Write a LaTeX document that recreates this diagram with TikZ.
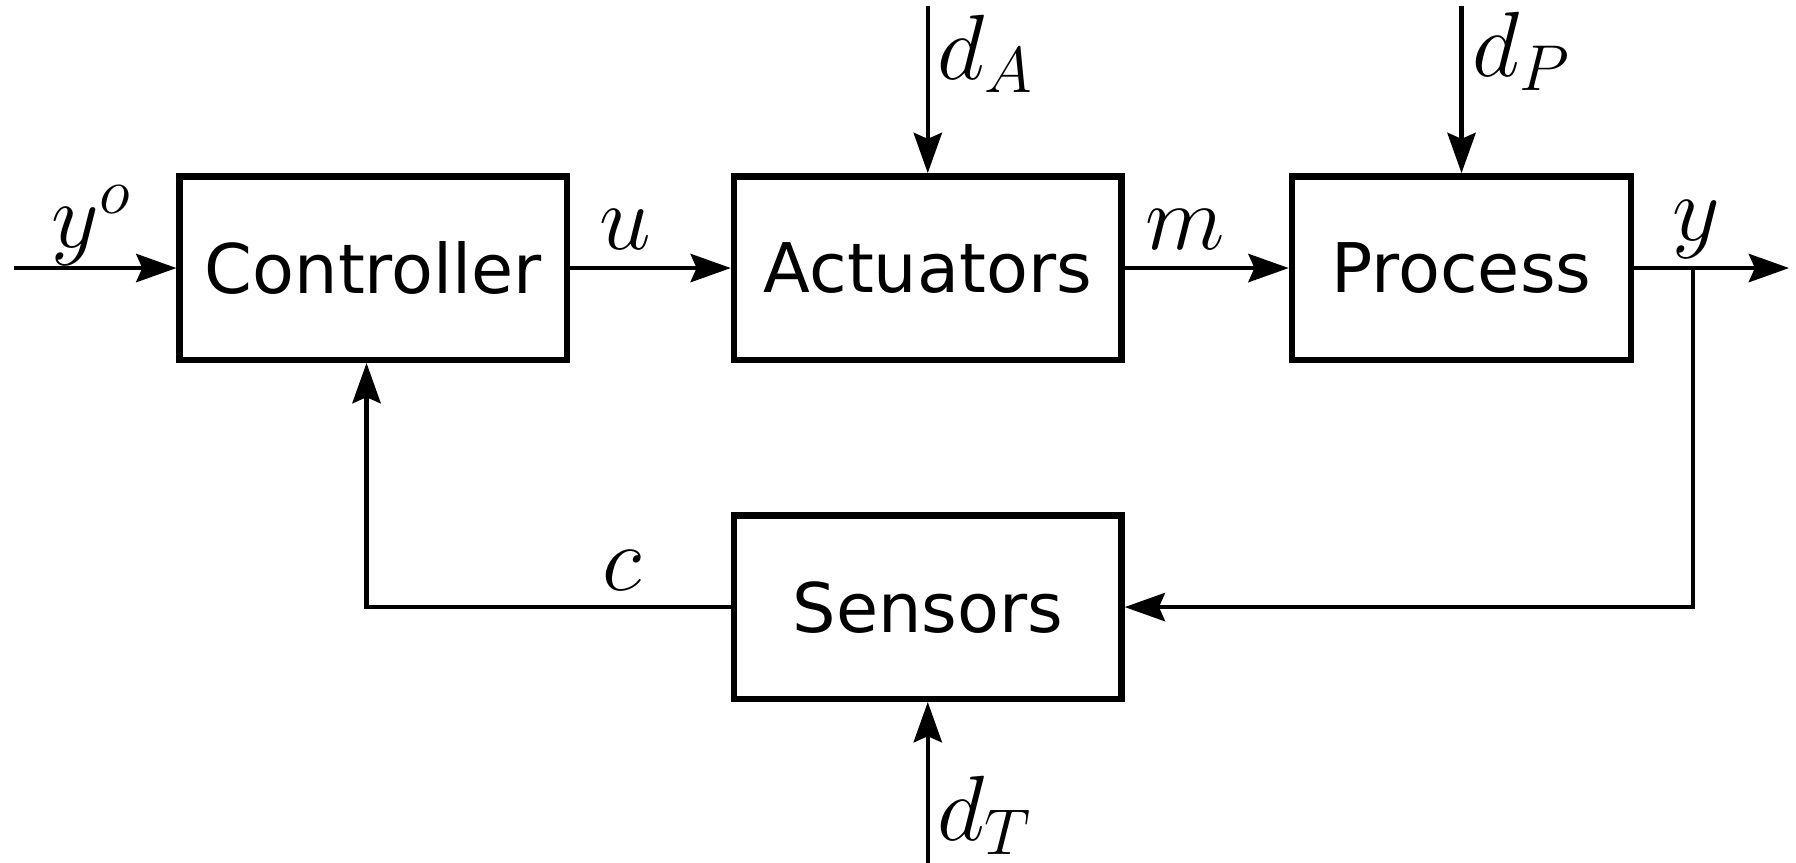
\documentclass[tikz,border=0pt]{standalone}
\usepackage{fix-cm}
\usepackage{fontspec}
\setsansfont{DejaVu Sans}
\usetikzlibrary{arrows.meta}
\begin{document}
\begin{tikzpicture}[x=0.01cm,y=-0.01cm,
  blk/.style={draw,line width=1.6pt,minimum width=3.38cm,minimum height=1.6cm,inner sep=0pt,
    font=\sffamily\fontsize{17}{20}\selectfont},
  sig/.style={line width=1.1pt,-{Stealth[length=10pt,width=7pt,inset=1.5pt]}},
  lbl/.style={font=\fontsize{23}{27}\selectfont,inner sep=0pt}]
\useasboundingbox (0,0) rectangle (1568,753);
\node[blk] (ctrl) at (326,234) {Controller};
\node[blk] (act) at (810,234) {Actuators};
\node[blk,minimum width=2.96cm] (proc) at (1276,234) {Process};
\node[blk] (sens) at (810,530) {Sensors};
\coordinate (in) at (12,234);
\coordinate (out) at (1562,234);
\coordinate (br) at (1478,234);
\coordinate (cb) at (320,530);
\coordinate (dA) at (810,5);
\coordinate (dP) at (1276,5);
\coordinate (dT) at (810,753);
\draw[sig] (in) -- (ctrl.west);
\draw[sig] (ctrl.east) -- (act.west);
\draw[sig] (act.east) -- (proc.west);
\draw[sig] (proc.east) -- (out);
\draw[sig] (br) |- (sens.east);
\draw[sig] (sens.west) -- (cb) -- (cb |- ctrl.south);
\draw[sig] (dA) -- (act.north);
\draw[sig] (dP) -- (proc.north);
\draw[sig] (dT) -- (sens.south);
\node[lbl] (lyo) at (80,197) {$y^o$};
\node[lbl] (lu) at (546,200) {$u$};
\node[lbl] (lm) at (1035,200) {$m$};
\node[lbl] (ly) at (1481,200) {$y$};
\node[lbl] (lc) at (543,498) {$c$};
\node[lbl,anchor=west] (lda) at (818,47) {$d_A$};
\node[lbl,anchor=west] (ldp) at (1285,45) {$d_P$};
\node[lbl,anchor=west] (ldt) at (818,712) {$d_T$};
\end{tikzpicture}
\end{document}
